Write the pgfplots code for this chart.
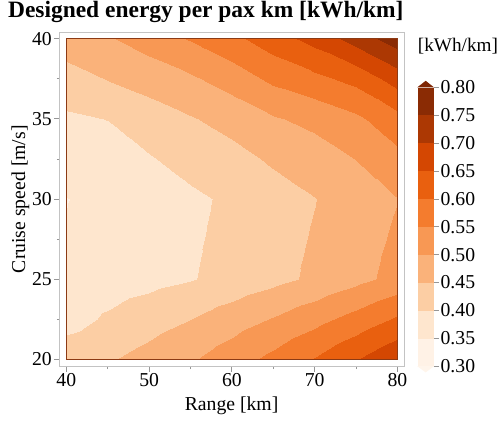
\documentclass[border=0pt]{standalone}
\usepackage{pgfplots}
\usepackage{pgfplotstable}
\pgfplotsset{compat=1.18}
\usepackage{fontspec}
\setmainfont{Liberation Serif}
\definecolor{framegray}{RGB}{195,195,195}
\definecolor{tickgray}{RGB}{150,150,150}
\definecolor{edgebrown}{RGB}{140,58,20}
\definecolor{cbunder}{RGB}{255,245,235}
\definecolor{cbover}{RGB}{127,39,4}

% energy per pax km [kWh/km]; x = range [km], y = cruise speed [m/s]
\pgfplotstableread{
x y z
40 20 0.430
45 20 0.445
50 20 0.468
55 20 0.494
60 20 0.527
65 20 0.563
70 20 0.603
75 20 0.647
80 20 0.692
40 22.5 0.380
45 22.5 0.407
50 22.5 0.428
55 22.5 0.449
60 22.5 0.476
65 22.5 0.503
70 22.5 0.534
75 22.5 0.568
80 22.5 0.606
40 25 0.362
45 25 0.374
50 25 0.385
55 25 0.397
60 25 0.416
65 25 0.436
70 25 0.459
75 25 0.486
80 25 0.515
40 27.5 0.352
45 27.5 0.367
50 27.5 0.380
55 27.5 0.3935
60 27.5 0.4125
65 27.5 0.4325
70 27.5 0.454
75 27.5 0.480
80 27.5 0.507
40 30 0.349
45 30 0.360
50 30 0.375
55 30 0.390
60 30 0.409
65 30 0.429
70 30 0.449
75 30 0.474
80 30 0.499
40 32.5 0.369
45 32.5 0.380
50 32.5 0.396
55 32.5 0.418
60 32.5 0.434
65 32.5 0.457
70 32.5 0.477
75 32.5 0.501
80 32.5 0.535
40 35 0.392
45 35 0.401
50 35 0.427
55 35 0.446
60 35 0.467
65 35 0.495
70 35 0.513
75 35 0.540
80 35 0.582
40 37.5 0.430
45 37.5 0.452
50 37.5 0.469
55 37.5 0.492
60 37.5 0.522
65 37.5 0.561
70 37.5 0.587
75 37.5 0.615
80 37.5 0.672
40 40 0.475
45 40 0.495
50 40 0.523
55 40 0.553
60 40 0.587
65 40 0.626
70 40 0.668
75 40 0.720
80 40 0.776
}\energytable

\pgfplotstableread{
x y
40 20
80 20
80 40
40 40
40 20
}\bordertable

\begin{document}
\begin{tikzpicture}
\begin{axis}[
  at={(0,0)}, anchor=south west,
  scale only axis,
  width=350.3pt, height=339pt,
  xmin=39.21, xmax=80.91,
  ymin=19.557, ymax=40.41,
  xtick={40,50,60,70,80},
  ytick={20,25,30,35,40},
  minor x tick num=1, minor y tick num=1,
  tick pos=left,
  tick align=outside,
  major tick length=5.5pt,
  minor tick length=3pt,
  tick style={tickgray, line width=0.8pt},
  axis line style={framegray, line width=0.9pt},
  /pgf/number format/assume math mode=true,
  tick label style={font=\fontsize{20}{24}\selectfont},
  xticklabel style={inner sep=1.8pt},
  yticklabel style={inner sep=2.5pt},
  xlabel={Range [km]},
  ylabel={Cruise speed [m/s]},
  xlabel style={at={(axis description cs:0.4976,-0.1327)}, anchor=base, inner sep=0pt, font=\fontsize{20}{24}\selectfont},
  ylabel style={at={(axis description cs:-0.1005,0.5)}, anchor=base, inner sep=0pt, font=\fontsize{20}{24}\selectfont},
  title={Designed energy per pax km [kWh/km]},
  title style={at={(axis description cs:-0.1504,1.0277)}, anchor=base west, inner sep=0pt, font=\bfseries\fontsize{23.8}{28}\selectfont},
  colormap={orangebands}{
    rgb255=(255,242,230) rgb255=(254,230,206) rgb255=(252,206,164)
    rgb255=(250,178,122) rgb255=(248,152,84) rgb255=(244,124,46)
    rgb255=(233,96,15) rgb255=(212,71,2) rgb255=(172,56,3)
    rgb255=(138,43,4)},
  colormap access=piecewise constant,
  point meta min=0.30, point meta max=0.80,
  colorbar,
  colorbar style={
    at={(parent axis.south east)}, anchor=south west, xshift=4pt,
    scale only axis,
    width=17pt, height=283pt,
    ytick={0.3,0.35,0.4,0.45,0.5,0.55,0.6,0.65,0.7,0.75,0.8},
    minor y tick num=0,
    ytick pos=right,
    yticklabel pos=right,
    tick align=outside,
    major tick length=5pt,
    tick style={tickgray, line width=0.8pt},
    axis line style={draw=none},
    yticklabel style={font=\fontsize{20}{24}\selectfont, inner sep=1.5pt,
      /pgf/number format/.cd, fixed, fixed zerofill, precision=2, assume math mode=true},
    title={[kWh/km]},
    title style={at={(axis description cs:0,1)}, anchor=base west, yshift=30.7pt, xshift=0.5pt, inner sep=0pt, font=\fontsize{19.5}{23}\selectfont},
    extra description/.code={
      \fill[cbover] (axis description cs:0,1) -- ([yshift=6.7pt]axis description cs:0.5,1) -- (axis description cs:1,1) -- cycle;
      \fill[cbunder] (axis description cs:0,0) -- ([yshift=-6.3pt]axis description cs:0.5,0) -- (axis description cs:1,0) -- cycle;
    },
  },
]
\addplot[surf, shader=interp, mesh/cols=9, mesh/rows=9, point meta=explicit]
  table[x=x, y=y, meta=z] {\energytable};
\addplot[draw=edgebrown, line width=1.1pt, mark=none, line join=miter, line cap=rect, forget plot]
  table[x=x, y=y] {\bordertable};
\end{axis}
\path (-60.7pt,-58.3pt) rectangle (437.3pt,371.7pt);
\end{tikzpicture}
\end{document}
